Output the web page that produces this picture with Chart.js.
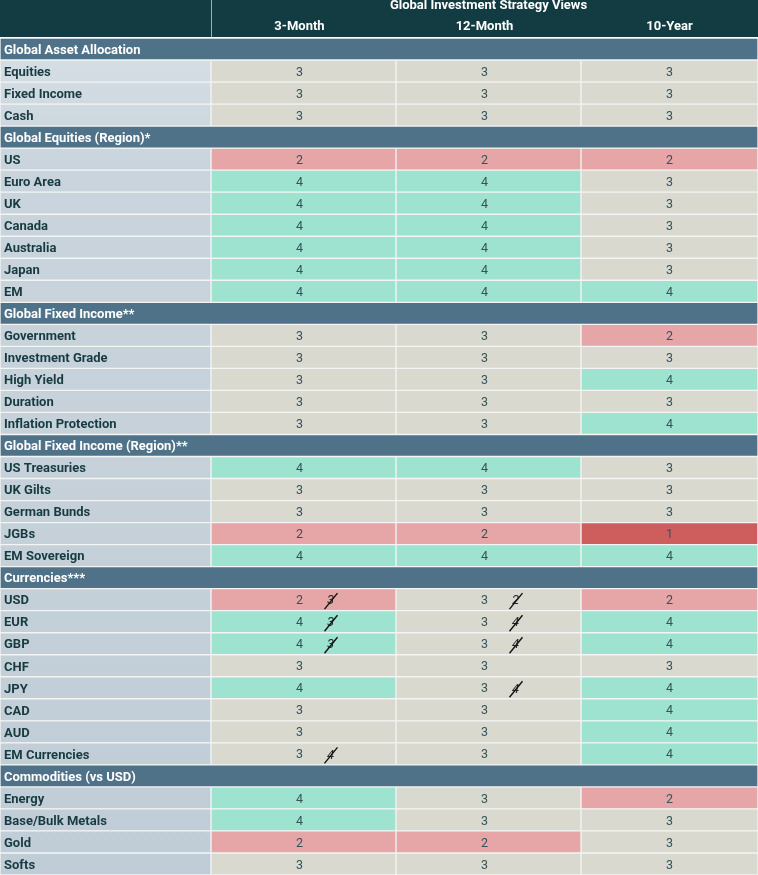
<!DOCTYPE html>
<html>
<head>
<meta charset="utf-8">
<script src="https://cdn.jsdelivr.net/npm/chart.js@4.4.0/dist/chart.umd.min.js"></script>
<style>
html, body { margin: 0; padding: 0; background: #ffffff; }
#wrap { width: 758px; height: 875px; position: relative; }
</style>
</head>
<body>
<div id="wrap"><canvas id="graficoVistas"></canvas></div>
<script>
var titulo = "Global Investment Strategy Views";
var horizontes = ["3-Month", "12-Month", "10-Year"];

var secoes = [
    "Global Asset Allocation",
    "Global Equities (Region)*",
    "Global Fixed Income**",
    "Global Fixed Income (Region)**",
    "Currencies***",
    "Commodities (vs USD)"
];

var linhas = [
    "Global Asset Allocation",
    "Equities", "Fixed Income", "Cash",
    "Global Equities (Region)*",
    "US", "Euro Area", "UK", "Canada", "Australia", "Japan", "EM",
    "Global Fixed Income**",
    "Government", "Investment Grade", "High Yield", "Duration", "Inflation Protection",
    "Global Fixed Income (Region)**",
    "US Treasuries", "UK Gilts", "German Bunds", "JGBs", "EM Sovereign",
    "Currencies***",
    "USD", "EUR", "GBP", "CHF", "JPY", "CAD", "AUD", "EM Currencies",
    "Commodities (vs USD)",
    "Energy", "Base/Bulk Metals", "Gold", "Softs"
];

var tresMeses = [
    null, 3, 3, 3,
    null, 2, 4, 4, 4, 4, 4, 4,
    null, 3, 3, 3, 3, 3,
    null, 4, 3, 3, 2, 4,
    null, 2, 4, 4, 3, 4, 3, 3, 3,
    null, 4, 4, 2, 3
];
var dozeMeses = [
    null, 3, 3, 3,
    null, 2, 4, 4, 4, 4, 4, 4,
    null, 3, 3, 3, 3, 3,
    null, 4, 3, 3, 2, 4,
    null, 3, 3, 3, 3, 3, 3, 3, 3,
    null, 3, 3, 2, 3
];
var dezAnos = [
    null, 3, 3, 3,
    null, 2, 3, 3, 3, 3, 3, 4,
    null, 2, 3, 4, 3, 4,
    null, 3, 3, 3, 1, 4,
    null, 2, 4, 4, 3, 4, 4, 4, 4,
    null, 2, 3, 3, 3
];
// previous views (struck out)
var tresMesesAntes = [
    null, null, null, null,
    null, null, null, null, null, null, null, null,
    null, null, null, null, null, null,
    null, null, null, null, null, null,
    null, 3, 3, 3, null, null, null, null, 4,
    null, null, null, null, null
];
var dozeMesesAntes = [
    null, null, null, null,
    null, null, null, null, null, null, null, null,
    null, null, null, null, null, null,
    null, null, null, null, null, null,
    null, 2, 4, 4, null, 4, null, null, null,
    null, null, null, null, null
];

var coresNota = { 1: "#cd5e5d", 2: "#e6a5a7", 3: "#d9d9d0", 4: "#9ee3cf", 5: "#4fc3a1" };
var LARGURA = 758, TOPO = 38, COL_ROTULO = 211;
var COL_LARG = [185, 185, 177];
var DESLOC = [-4, -4, 0];

function ehSecao(nome) { return secoes.indexOf(nome) >= 0; }

function corRotulo(ctx) {
    var chart = ctx.chart, area = chart.chartArea;
    if (!area) return "#cfd9e0";
    var g = chart.ctx.createLinearGradient(0, area.top, 0, area.bottom);
    g.addColorStop(0, "#d8e0e6");
    g.addColorStop(0.15, "#c9d4dc");
    g.addColorStop(1, "#c1cdd6");
    return g;
}

var colunas = [tresMeses, dozeMeses, dezAnos];
var antes = [tresMesesAntes, dozeMesesAntes, null];

var datasets = [
    {
        label: "secao",
        data: linhas.map(function (n) { return ehSecao(n) ? LARGURA : null; }),
        backgroundColor: "#4f7289"
    },
    {
        label: "rotulo",
        data: linhas.map(function (n) { return ehSecao(n) ? null : COL_ROTULO; }),
        backgroundColor: corRotulo
    }
];
colunas.forEach(function (vals, c) {
    datasets.push({
        label: horizontes[c],
        data: vals.map(function (v) { return v == null ? null : COL_LARG[c]; }),
        backgroundColor: function (ctx) { return coresNota[vals[ctx.dataIndex]] || "#d9d9d0"; }
    });
});
datasets.forEach(function (d) {
    d.borderWidth = 1;
    d.borderColor = "#f3f5f4";
    d.borderSkipped = false;
    d.barPercentage = 1;
    d.categoryPercentage = 1;
});

var textoTabela = {
    id: "textoTabela",
    beforeDraw: function (chart) {
        var c = chart.ctx;
        c.save();
        c.fillStyle = "#123b42";
        c.fillRect(0, 0, LARGURA, TOPO - 1);
        c.fillStyle = "#9fb1b5";
        c.fillRect(COL_ROTULO, 0, 1, TOPO - 1);
        c.restore();
    },
    afterDatasetsDraw: function (chart) {
        var c = chart.ctx;
        var yScale = chart.scales.y;
        c.save();
        c.textBaseline = "middle";

        // header
        var primeira = linhas.findIndex(function (n) { return !ehSecao(n); });
        var centros = [2, 3, 4].map(function (di, k) {
            var el = chart.getDatasetMeta(di).data[primeira];
            return (el.x + el.base) / 2 + DESLOC[k];
        });
        c.fillStyle = "#ffffff";
        c.textAlign = "center";
        c.font = "bold 13px Roboto";
        c.fillText(titulo, (COL_ROTULO + LARGURA) / 2 + 4, 6);
        horizontes.forEach(function (h, i) { c.fillText(h, centros[i], 27); });

        linhas.forEach(function (nome, i) {
            var y = yScale.getPixelForValue(i) + 1.5;
            c.textAlign = "left";
            if (ehSecao(nome)) {
                c.fillStyle = "#ffffff";
                c.font = "bold 13px Roboto";
                c.fillText(nome, 4, y);
                return;
            }
            c.fillStyle = "#183b42";
            c.font = "bold 13px Roboto";
            c.fillText(nome, 4, y);

            colunas.forEach(function (vals, k) {
                var el = chart.getDatasetMeta(k + 2).data[i];
                var cx = (el.x + el.base) / 2 + DESLOC[k];
                c.textAlign = "center";
                c.fillStyle = "#34545a";
                c.font = "12.5px Roboto";
                c.fillText(String(vals[i]), cx, y);
                var ant = antes[k] ? antes[k][i] : null;
                if (ant != null) {
                    var px = cx + 31;
                    c.fillStyle = "#2a2a2a";
                    c.font = "italic 13px Roboto";
                    c.fillText(String(ant), px, y);
                    c.strokeStyle = "#111111";
                    c.lineWidth = 1.4;
                    c.beginPath();
                    c.moveTo(px - 6, y + 8);
                    c.lineTo(px + 7, y - 8);
                    c.stroke();
                }
            });
        });
        c.restore();
    }
};

document.addEventListener("DOMContentLoaded", function () {
    var ctx = document.getElementById("graficoVistas");
    if (!ctx) return;
    new Chart(ctx.getContext("2d"), {
        type: "bar",
        data: { labels: linhas, datasets: datasets },
        options: {
            indexAxis: "y",
            responsive: true,
            maintainAspectRatio: false,
            animation: false,
            layout: { padding: { top: TOPO, left: 0, right: 0, bottom: 0 } },
            scales: {
                x: { stacked: true, min: 0, max: LARGURA, display: false },
                y: { stacked: true, display: false }
            },
            plugins: {
                legend: { display: false },
                tooltip: { enabled: false }
            }
        },
        plugins: [textoTabela]
    });
});
</script>
</body>
</html>
